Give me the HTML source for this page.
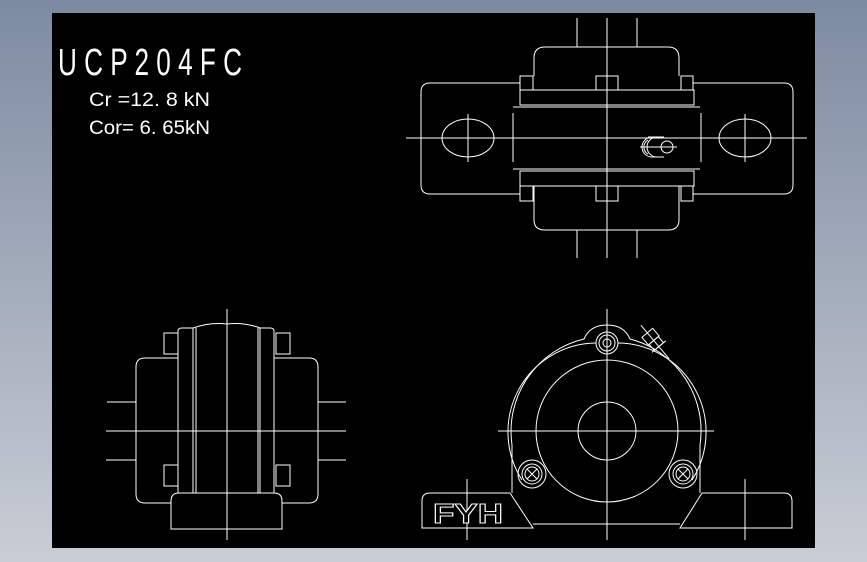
<!DOCTYPE html>
<html><head><style>
html,body{margin:0;padding:0;}
body{width:867px;height:562px;background:linear-gradient(#7d8ba1,#c9cdd5);position:relative;overflow:hidden;}
svg{position:absolute;left:0;top:0;}
</style></head><body>
<svg width="867" height="562" viewBox="0 0 867 562" xmlns="http://www.w3.org/2000/svg">
<rect x="52" y="13" width="763" height="535" fill="#000"/>
<g fill="#fff" font-family="Liberation Sans, sans-serif">
<text x="58" y="75" font-size="38" textLength="184" lengthAdjust="spacingAndGlyphs">U  C  P  2  0  4  F  C</text>
<text x="89" y="106" font-size="19" textLength="121" lengthAdjust="spacingAndGlyphs">Cr  =12.  8   kN</text>
<text x="89" y="134" font-size="19" textLength="121" lengthAdjust="spacingAndGlyphs">Cor=  6.  65kN</text>
</g>
<g fill="none" stroke="#fff" stroke-width="1">
<!-- TOP VIEW -->
<line x1="607" y1="18" x2="607" y2="258"/>
<line x1="577" y1="18" x2="577" y2="47"/><line x1="637" y1="18" x2="637" y2="47"/>
<line x1="577" y1="230" x2="577" y2="258"/><line x1="637" y1="230" x2="637" y2="258"/>
<line x1="406" y1="138" x2="807" y2="138"/>
<path d="M520 83 H430 Q421 83 421 92 V185 Q421 194 430 194 H520"/>
<path d="M693 83 H784 Q793 83 793 92 V185 Q793 194 784 194 H693"/>
<path d="M534 76 V58 Q534 47 545 47 H668 Q679 47 679 58 V76"/>
<path d="M534 186 V220 Q534 230 545 230 H668 Q679 230 679 220 V186"/>
<rect x="520" y="76" width="13" height="14"/><rect x="596" y="76" width="22" height="14"/><rect x="681" y="76" width="12" height="14"/>
<rect x="520" y="186" width="13" height="15"/><rect x="596" y="186" width="22" height="15"/><rect x="681" y="186" width="12" height="15"/>
<rect x="520" y="90" width="174" height="15"/>
<line x1="513" y1="107" x2="700" y2="107"/>
<line x1="513" y1="113" x2="513" y2="162"/><line x1="701" y1="113" x2="701" y2="162"/>
<line x1="513" y1="169" x2="700" y2="169"/>
<rect x="520" y="171" width="174" height="15"/>
<ellipse cx="468" cy="138" rx="26" ry="19"/><line x1="468" y1="114" x2="468" y2="162"/>
<ellipse cx="745" cy="138" rx="26" ry="19"/><line x1="745" y1="114" x2="745" y2="162"/>
<circle cx="667" cy="147" r="6"/>
<path d="M652 137 A10 10 0 0 0 652 157 M657 137 A10 10 0 0 0 657 157 M648 140 A8 8 0 0 0 648 154 M648 137 H664 M650 157 H664"/>
<line x1="640" y1="147" x2="677" y2="147"/>
<!-- SIDE VIEW -->
<line x1="227" y1="309" x2="227" y2="540"/>
<line x1="106" y1="431" x2="346" y2="431"/>
<line x1="107" y1="402" x2="136" y2="402"/><line x1="318" y1="402" x2="346" y2="402"/>
<line x1="106" y1="460" x2="136" y2="460"/><line x1="318" y1="460" x2="346" y2="460"/>
<path d="M178 358 H145 Q136 358 136 367 V494 Q136 503 145 503 H171"/>
<path d="M274 358 H309 Q318 358 318 367 V494 Q318 503 309 503 H282"/>
<path d="M178 493 V331 Q178 328 182 328 H193 Q210 322 227 324 Q244 322 260 328 H270 Q274 328 274 331 V493 Z"/>
<line x1="193" y1="328" x2="193" y2="493"/><line x1="196" y1="328" x2="196" y2="493"/>
<line x1="258" y1="328" x2="258" y2="493"/><line x1="260" y1="328" x2="260" y2="493"/>
<rect x="164" y="333" width="14" height="21"/><rect x="164" y="465" width="14" height="21"/>
<rect x="276" y="333" width="14" height="21"/><rect x="276" y="465" width="14" height="21"/>
<path d="M171 529 V501 Q171 493 179 493 H274 Q282 493 282 501 V529 Z"/>
<!-- FRONT VIEW -->
<line x1="607" y1="309" x2="607" y2="540"/>
<line x1="498" y1="431" x2="714" y2="431"/>
<line x1="467" y1="479" x2="467" y2="540"/><line x1="745" y1="479" x2="745" y2="540"/>
<circle cx="607" cy="431" r="29"/>
<circle cx="607" cy="431" r="71"/>
<path d="M522 480 A89 89 0 0 1 596 343 M618 343 A89 89 0 0 1 692 480"/>
<path d="M512 493 V445 A95 95 0 0 1 584 339 Q590 325 607 325 Q624 325 630 339 A95 95 0 0 1 700 445 V493"/>
<circle cx="607" cy="343" r="11"/><circle cx="607" cy="343" r="8"/><circle cx="607" cy="343" r="4"/>
<circle cx="532" cy="474" r="14"/><circle cx="532" cy="474" r="10"/><circle cx="532" cy="474" r="7"/>
<path d="M527 469 L537 479 M527 479 L537 469"/>
<circle cx="683" cy="474" r="14"/><circle cx="683" cy="474" r="10"/><circle cx="683" cy="474" r="7"/>
<path d="M678 469 L688 479 M678 479 L688 469"/>
<path d="M510 493 H430 Q422 493 422 501 V528 H533 L510 493"/>
<path d="M702 493 H784 Q792 493 792 501 V528 H680 L702 493"/>
<line x1="533" y1="524" x2="680" y2="524"/>
<g transform="translate(655,342) rotate(-40)">
<rect x="-7" y="-12" width="14" height="10"/><rect x="-6" y="-2" width="12" height="8"/>
<line x1="0" y1="-22" x2="0" y2="22"/><line x1="-9" y1="6" x2="9" y2="6"/>
</g>
</g>
<text x="433" y="523" font-family="Liberation Sans, sans-serif" font-size="28" font-weight="bold" fill="#000" stroke="#fff" stroke-width="1" textLength="70" lengthAdjust="spacingAndGlyphs">FYH</text>
</svg>
</body></html>
